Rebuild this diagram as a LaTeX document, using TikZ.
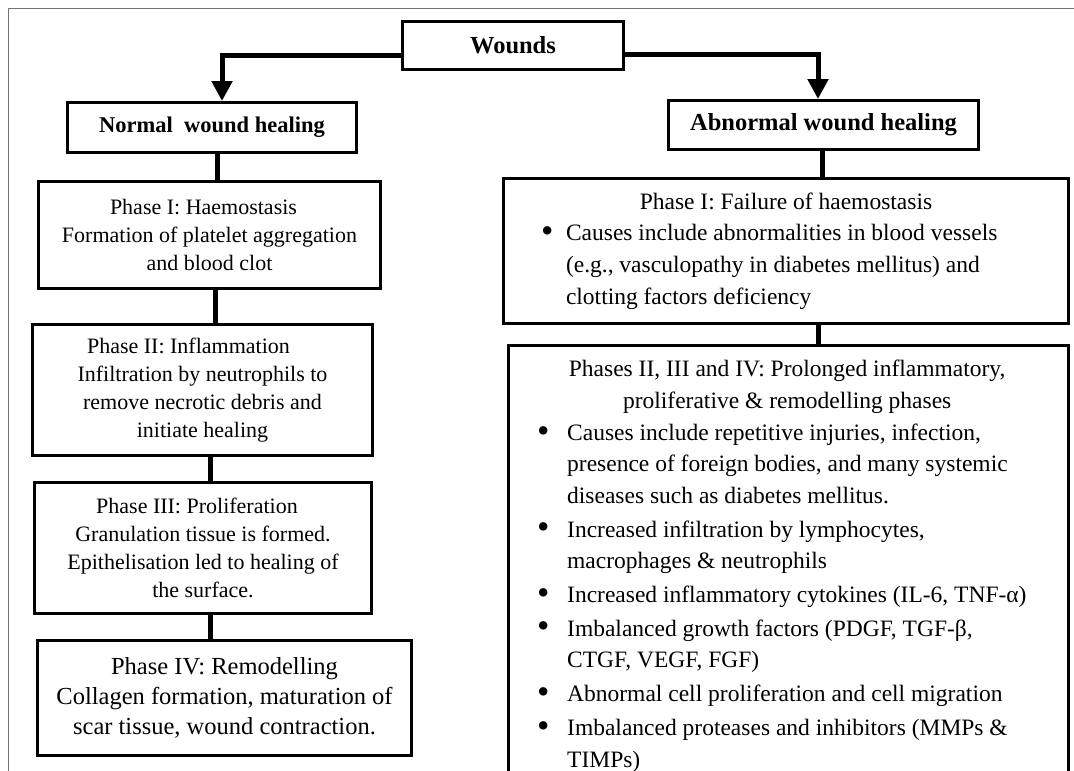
\documentclass[tikz,border=0pt]{standalone}
\usepackage{fontspec}
\setmainfont{Liberation Serif}
\usetikzlibrary{arrows.meta}
\newcommand{\lfont}{\fontsize{22}{28}\selectfont}
\newcommand{\lbigfont}{\fontsize{24.5}{30}\selectfont}
\newcommand{\rfont}{\fontsize{23.5}{31.7}\selectfont}
\newcommand{\rbfont}{\fontsize{23.5}{31.4}\selectfont}
\newcommand{\bigbul}{\raisebox{-1.5pt}{\scalebox{1.5}{\textbullet}}}
\newcommand{\ra}{\makebox[25pt][l]{\bigbul}}
\newcommand{\rb}{\makebox[28pt][l]{\hspace{-2pt}\bigbul}}
\begin{document}
\begin{tikzpicture}[x=1pt,y=-1pt,
  box/.style={draw=black, line width=3pt, fill=white, inner sep=0pt, align=center, text=black},
  link/.style={draw=black, line width=5pt},
  arr/.style={draw=black, line width=5pt, -{Triangle[width=20pt,length=20pt]}},
  frame/.style={draw=black!55, line width=1pt}]
\useasboundingbox (0,0) rectangle (1074,771);
\fill[white] (0,0) rectangle (1074,771);
\clip (0,0) rectangle (1074,771);
\draw[frame] (1090,8) -- (8,8) -- (8,790);

% headers
\node[box, minimum width=221pt, minimum height=48pt, font=\fontsize{24.5}{28}\selectfont\bfseries] (wounds) at (513,45.5) {Wounds};
\node[box, minimum width=289pt, minimum height=50pt, font=\fontsize{22.5}{27}\selectfont\bfseries] (normal) at (212,127.5) {Normal\ \ wound healing};
\node[box, minimum width=310pt, minimum height=49pt, font=\fontsize{24.5}{28}\selectfont\bfseries] (abnormal) at (823.5,125) {Abnormal wound healing};

% left column
\node[box, minimum width=342pt, minimum height=107pt, font=\lfont] (lp1) at (209.5,235)
  {Phase I: Haemostasis\hspace*{12pt}\\ Formation of platelet aggregation\\ and blood clot};
\node[box, minimum width=340pt, minimum height=131pt, font=\lfont] (lp2) at (202.5,390)
  {Phase II: Inflammation\hspace*{28pt}\\ Infiltration by neutrophils to\\ remove necrotic debris and\\ initiate healing};
\node[box, minimum width=337pt, minimum height=131pt, font=\lfont] (lp3) at (203,548)
  {Phase III: Proliferation\hspace*{12pt}\\ Granulation tissue is formed.\\ Epithelisation led to healing of\\ the surface.};
\node[box, minimum width=374pt, minimum height=115pt, font=\lbigfont] (lp4) at (224.5,698)
  {Phase IV: Remodelling\\ Collagen formation, maturation of\\ scar tissue, wound contraction.};

% right column
\node[box, minimum width=565pt, minimum height=145pt, font=\rfont, align=left] (rp1) at (786,251)
  {\makebox[490pt][c]{Phase I: Failure of haemostasis}\\
   \ra Causes include abnormalities in blood vessels\\
   \hspace*{25pt}(e.g., vasculopathy in diabetes mellitus) and\\
   \hspace*{25pt}clotting factors deficiency};
\node[box, minimum width=560pt, minimum height=480pt] (rp2) at (788.5,585) {};
\node[font=\rbfont, align=left, inner sep=0pt, anchor=north west, text=black] (rp2txt) at (539,360)
  {\makebox[496pt][c]{Phases II, III and IV: Prolonged inflammatory,}\\
   \makebox[496pt][c]{proliferative \& remodelling phases}\\[1pt]
   \rb Causes include repetitive injuries, infection,\\
   \hspace*{28pt}presence of foreign bodies, and many systemic\\
   \hspace*{28pt}diseases such as diabetes mellitus.\\[2.5pt]
   \rb Increased infiltration by lymphocytes,\\
   \hspace*{28pt}macrophages \& neutrophils\\[2.5pt]
   \rb Increased inflammatory cytokines (IL-6, TNF-α)\\[2.5pt]
   \rb Imbalanced growth factors (PDGF, TGF-β,\\
   \hspace*{28pt}CTGF, VEGF, FGF)\\[2.5pt]
   \rb Abnormal cell proliferation and cell migration\\[2.5pt]
   \rb Imbalanced proteases and inhibitors (MMPs \&\\
   \hspace*{28pt}TIMPs)};

% arrows
\draw[arr] ([yshift=-9.5pt]wounds.west) -| ([xshift=10pt]normal.north);
\draw[arr] ([yshift=-9pt]wounds.east) -| ([xshift=-5.5pt]abnormal.north);

% links
\draw[link] ([xshift=5pt]normal.south) -- ([xshift=5pt]normal.south |- lp1.north);
\draw[link] ([xshift=5.5pt]lp1.south) -- ([xshift=5.5pt]lp1.south |- lp2.north);
\draw[link] ([xshift=7.5pt]lp2.south) -- ([xshift=7.5pt]lp2.south |- lp3.north);
\draw[link] ([xshift=7pt]lp3.south) -- ([xshift=7pt]lp3.south |- lp4.north);
\draw[link] ([xshift=-1.5pt]abnormal.south) -- ([xshift=-1.5pt]abnormal.south |- rp1.north);
\draw[link] ([xshift=32pt]rp1.south) -- ([xshift=32pt]rp1.south |- rp2.north);
\end{tikzpicture}
\end{document}
